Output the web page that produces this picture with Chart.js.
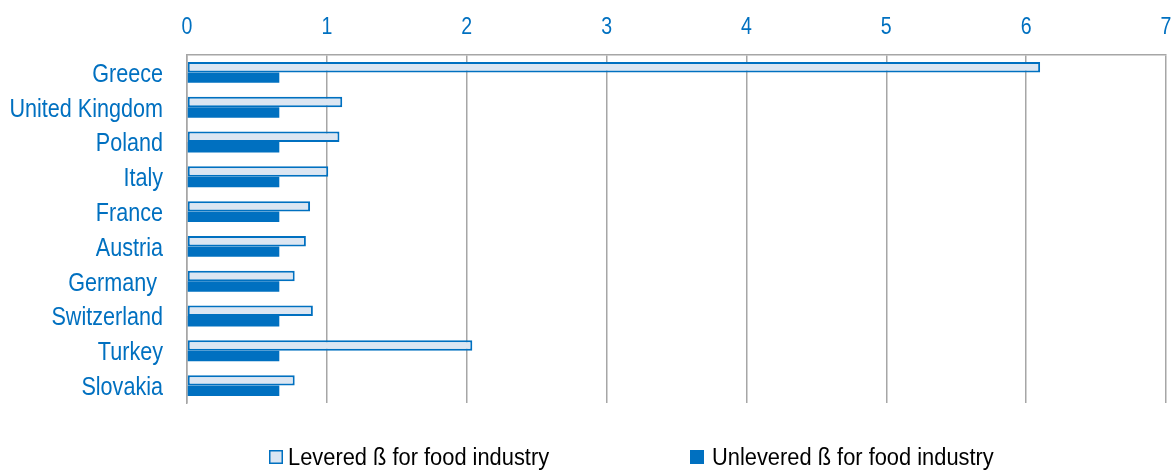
<!DOCTYPE html>
<html>
<head>
<meta charset="utf-8">
<script src="https://cdn.jsdelivr.net/npm/chart.js@4.4.1/dist/chart.umd.min.js"></script>
<style>
  html, body { margin: 0; padding: 0; background: #ffffff; }
  #wrap { width: 1171px; height: 471px; }
</style>
</head>
<body>
<div id="wrap"><canvas id="beta" width="1171" height="471"></canvas></div>
<script>
// Countries, top to bottom
const countries = ['Greece', 'United Kingdom', 'Poland', 'Italy', 'France', 'Austria', 'Germany ', 'Switzerland', 'Turkey', 'Slovakia'];
// Levered beta for the food industry per country
const leveredBeta = [6.10, 1.11, 1.09, 1.01, 0.88, 0.85, 0.77, 0.90, 2.04, 0.77];
// Unlevered beta for the food industry (same for every country)
const unleveredBeta = [0.66, 0.66, 0.66, 0.66, 0.66, 0.66, 0.66, 0.66, 0.66, 0.66];
// Value axis range
const axisMin = 0;
const axisMax = 7;
const axisStep = 1;
const seriesNames = ['Levered ß for food industry', 'Unlevered ß for food industry'];

const BLUE = '#0070c0';
const LIGHT = '#dce6f2';
const GRID = '#a6a6a6';
const FONT = "'Liberation Sans', Arial, sans-serif";

// Draws text squeezed horizontally to get a condensed face
function narrowText(ctx, text, x, y, size, squeeze, align) {
  ctx.save();
  ctx.font = size + 'px ' + FONT;
  ctx.textAlign = align;
  ctx.textBaseline = 'alphabetic';
  ctx.translate(x, y);
  ctx.scale(squeeze, 1);
  ctx.fillText(text, 0, 0);
  ctx.restore();
}

// Axis labels in a condensed style, positioned by the chart's own scales
const condensedTicks = {
  id: 'condensedTicks',
  afterDraw(chart, args, opts) {
    const ctx = chart.ctx;
    const xs = chart.scales.x;
    const ys = chart.scales.y;
    ctx.save();
    ctx.fillStyle = BLUE;
    xs.ticks.forEach((t) => {
      narrowText(ctx, String(t.value), xs.getPixelForValue(t.value),
        chart.chartArea.top - opts.xGap, opts.xSize, opts.xSqueeze, 'center');
    });
    ys.ticks.forEach((t, i) => {
      const label = chart.data.labels[t.value];
      narrowText(ctx, label, chart.chartArea.left - opts.yGap,
        ys.getPixelForTick(i) + opts.ySize * 0.36, opts.ySize, opts.ySqueeze, 'right');
    });
    ctx.restore();
  }
};

// Legend drawn below the plot with wide spacing between the two entries
const wideLegend = {
  id: 'wideLegend',
  afterDraw(chart, args, opts) {
    const ctx = chart.ctx;
    chart.data.datasets.forEach((ds, i) => {
      const x = opts.itemX[i];
      const boxTop = chart.height - opts.boxBottomOffset - opts.boxH;
      ctx.save();
      ctx.fillStyle = ds.backgroundColor;
      ctx.fillRect(x, boxTop, opts.boxW, opts.boxH);
      if (ds.borderWidth) {
        ctx.strokeStyle = ds.borderColor;
        ctx.lineWidth = 1.5;
        ctx.strokeRect(x + 0.75, boxTop + 0.75, opts.boxW - 1.5, opts.boxH - 1.5);
      }
      ctx.restore();
      ctx.save();
      ctx.fillStyle = '#000000';
      narrowText(ctx, ds.label, opts.textX[i], chart.height - opts.baselineOffset,
        opts.fontSize, opts.squeeze, 'left');
      ctx.restore();
    });
  }
};

new Chart(document.getElementById('beta'), {
  type: 'bar',
  data: {
    labels: countries,
    datasets: [
      {
        label: seriesNames[0],
        data: leveredBeta,
        backgroundColor: LIGHT,
        borderColor: BLUE,
        borderWidth: 2,
        borderSkipped: false
      },
      {
        label: seriesNames[1],
        data: unleveredBeta,
        backgroundColor: BLUE,
        borderColor: BLUE,
        borderWidth: 0
      }
    ]
  },
  options: {
    indexAxis: 'y',
    responsive: false,
    animation: false,
    devicePixelRatio: 1,
    categoryPercentage: 0.6,
    barPercentage: 1.0,
    layout: { padding: { top: 0, right: 5, bottom: 68, left: 0 } },
    plugins: {
      legend: { display: false },
      tooltip: { enabled: false },
      condensedTicks: {
        xGap: 21, xSize: 23, xSqueeze: 0.85,
        yGap: 24, ySize: 26, ySqueeze: 0.83
      },
      wideLegend: {
        itemX: [269, 690],
        textX: [288, 712],
        boxW: 14,
        boxH: 14,
        boxBottomOffset: 7,
        baselineOffset: 6.5,
        fontSize: 23,
        squeeze: 0.95
      }
    },
    scales: {
      x: {
        position: 'top',
        min: axisMin,
        max: axisMax,
        ticks: { stepSize: axisStep, display: false },
        grid: { color: GRID, lineWidth: 1.5, drawTicks: false },
        border: { display: true, color: GRID, width: 1.5 },
        afterFit(scale) { scale.height = 55; }
      },
      y: {
        ticks: { display: false, autoSkip: false },
        grid: { display: false, drawTicks: false },
        border: { display: true, color: GRID, width: 1.5 },
        afterFit(scale) { scale.width = 187; }
      }
    }
  },
  plugins: [condensedTicks, wideLegend]
});
</script>
</body>
</html>
